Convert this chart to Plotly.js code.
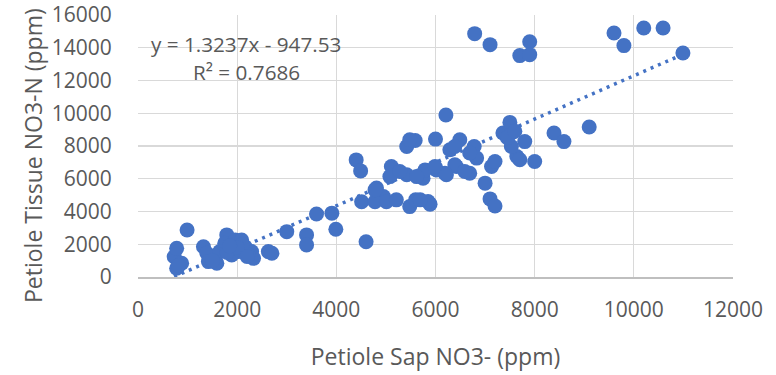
<!DOCTYPE html>
<html>
<head>
<meta charset="utf-8">
<script src="https://cdn.plot.ly/plotly-3.0.1.min.js"></script>
<style>html,body{margin:0;padding:0;background:#fff;}#chart{width:776px;height:375px;}</style>
</head>
<body>
<div id="chart"></div>
<script>
// Petiole Sap NO3- (ppm)
const sapNO3 = [
  730, 780, 880, 780, 820, 990,
  1320, 1390, 1420, 1590, 1790, 1750, 1650, 1960, 2090, 2160, 2020, 1890, 2290, 2330, 2220, 2630, 2700, 1800, 1500, 2100, 2000, 1850, 2200,
  3000, 3400, 3400, 3600, 3910, 3990, 4600,
  4400, 4490, 4810, 4950, 4510, 4780, 5010, 5210, 5480, 5600, 5890, 5110, 5080, 5420, 5750, 6020, 6220, 6420, 6690, 7130, 7200, 7000, 7100, 7200,
  5790, 5620, 5280, 5420, 5590, 5480, 6000, 6490, 6290, 6390, 6780, 6830, 6690, 6210, 7360, 7530, 7500, 7800, 7640, 7700, 8000, 7530, 8390, 8590, 9100, 7450, 7600,
  6390, 6590, 6190, 5990, 5850, 5690, 4780,
  6790, 7100, 7700, 7900, 7900, 9600, 9800, 10200, 10590, 10990
];
// Petiole Tissue NO3-N (ppm)
const tissueNO3N = [
  1240, 1750, 840, 530, 700, 2870,
  1850, 1450, 940, 840, 2570, 2060, 1550, 2260, 2260, 1850, 1550, 1350, 1550, 1140, 1350, 1550, 1450, 1500, 1000, 2000, 1800, 1900, 1250,
  2770, 2570, 1960, 3850, 3900, 2920, 2150,
  7150, 6480, 5430, 4910, 4600, 4600, 4600, 4710, 4300, 4710, 4450, 6750, 6130, 6240, 6030, 6540, 6240, 6750, 6340, 6750, 7050, 5730, 4770, 4340,
  6540, 6130, 6440, 7970, 8340, 8380, 8420, 8380, 7770, 7970, 7970, 7260, 7570, 9890, 8790, 8790, 9440, 8270, 7360, 7160, 7050, 7970, 8790, 8270, 9160, 8500, 8900,
  6850, 6440, 6340, 6750, 4610, 4710, 5320,
  14860, 14190, 13520, 14370, 13580, 14900, 14130, 15210, 15210, 13680
];
// Linear trendline (Excel)
const trendSlope = 1.3237;
const trendIntercept = -947.53;
const trendR2 = 0.7686;

const xTickVals = [0, 2000, 4000, 6000, 8000, 10000, 12000];
const yTickVals = [0, 2000, 4000, 6000, 8000, 10000, 12000, 14000, 16000];
const xTitle = 'Petiole Sap NO3- (ppm)';
const yTitle = 'Petiole Tissue NO3-N (ppm)';

const xMin = Math.min(...sapNO3), xMax = Math.max(...sapNO3);
const trendX = [xMin, xMax];
const trendY = trendX.map(v => trendSlope * v + trendIntercept);

const blue = '#4472C4';
const gray = '#595959';
const font = 'Open Sans, Noto Sans, sans-serif';

const data = [
  {
    x: trendX, y: trendY, type: 'scatter', mode: 'lines',
    line: {color: blue, width: 3.5, dash: '3px,5px'},
    hoverinfo: 'skip', showlegend: false
  },
  {
    x: sapNO3, y: tissueNO3N, type: 'scatter', mode: 'markers',
    marker: {color: blue, size: 15, line: {width: 0}},
    showlegend: false
  }
];

const layout = {
  width: 776, height: 375,
  margin: {l: 138, r: 43, t: 15, b: 98},
  paper_bgcolor: '#ffffff', plot_bgcolor: '#ffffff',
  font: {family: font, color: gray, size: 18},
  xaxis: {
    range: [0, 12000], tickvals: xTickVals, ticktext: xTickVals.map(String),
    showgrid: true, gridcolor: '#d9d9d9', gridwidth: 1.3,
    zeroline: false, showline: true, linecolor: '#bfbfbf', linewidth: 1.5,
    ticks: 'outside', ticklen: 13, tickcolor: 'rgba(0,0,0,0)',
    ticklabeloverflow: 'allow',
    tickfont: {family: font, size: 21, color: gray},
    title: {text: xTitle, font: {family: font, size: 23, color: gray}, standoff: 27},
    automargin: false, fixedrange: true
  },
  yaxis: {
    range: [0, 16000], tickvals: yTickVals, ticktext: yTickVals.map(String),
    showgrid: true, gridcolor: '#d9d9d9', gridwidth: 1.3,
    zeroline: false, showline: false,
    ticks: 'outside', ticklen: 21, tickcolor: 'rgba(0,0,0,0)',
    ticklabeloverflow: 'allow',
    tickfont: {family: font, size: 21, color: gray},
    automargin: false, fixedrange: true
  },
  annotations: [
    {
      xref: 'paper', yref: 'paper', x: (33 - 138) / 595, y: (277 - 156) / 262,
      text: yTitle, textangle: -90,
      showarrow: false, xanchor: 'center', yanchor: 'middle',
      font: {family: font, size: 23, color: gray}
    },
    {
      xref: 'paper', yref: 'paper', x: 0.182, y: (277 - 44) / 262,
      text: 'y = ' + trendSlope.toFixed(4) + 'x - ' + Math.abs(trendIntercept).toFixed(2),
      showarrow: false, xanchor: 'center', yanchor: 'middle',
      font: {family: font, size: 20.7, color: gray}
    },
    {
      xref: 'paper', yref: 'paper', x: 0.182, y: (277 - 72) / 262,
      text: 'R² = ' + trendR2.toFixed(4),
      showarrow: false, xanchor: 'center', yanchor: 'middle',
      font: {family: font, size: 20.7, color: gray}
    }
  ]
};

Plotly.newPlot('chart', data, layout, {staticPlot: true, displayModeBar: false});
</script>
</body>
</html>
